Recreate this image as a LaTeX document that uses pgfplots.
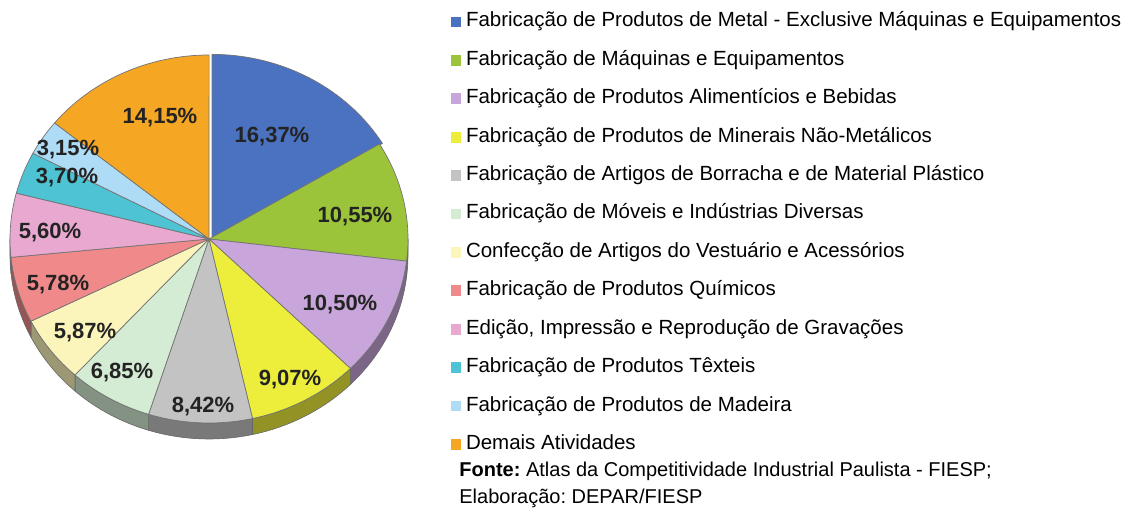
\documentclass[border=0pt]{standalone}
\usepackage{pgfplots}
\pgfplotsset{compat=1.18}
\usepackage{fontspec}
\setmainfont{Liberation Sans}
\frenchspacing
\definecolor{cA}{RGB}{74,114,192}
\definecolor{cB}{RGB}{156,196,58}
\definecolor{cC}{RGB}{200,165,218}
\definecolor{cD}{RGB}{237,237,60}
\definecolor{cE}{RGB}{195,195,195}
\definecolor{cF}{RGB}{212,235,212}
\definecolor{cG}{RGB}{251,245,187}
\definecolor{cH}{RGB}{240,138,138}
\definecolor{cI}{RGB}{232,168,207}
\definecolor{cJ}{RGB}{77,195,211}
\definecolor{cK}{RGB}{174,219,245}
\definecolor{cL}{RGB}{245,166,35}
\definecolor{labtxt}{RGB}{35,35,35}
% pie geometry (pixel units of the 1138x508 canvas, 1 px = 0.5 pt)
\def\rx{99.5pt}\def\ry{92pt}\def\depth{8pt}
% value / colour / explode shift x,y (pt)
\def\pieData{16.37/cA/1.5/0.3, 10.55/cB/0/0, 10.50/cC/0/0, 9.07/cD/0/0, 8.42/cE/0/0, 6.85/cF/0/0, 5.87/cG/0/0, 5.78/cH/0/0, 5.60/cI/0/0, 3.70/cJ/0/0, 3.15/cK/0/0, 14.15/cL/0/0}
\gdef\pieTops{}\gdef\pieSides{}\xdef\cum{0}
\foreach \v/\c/\sx/\sy in \pieData {%
  \pgfmathsetmacro\sa{90-3.6*\cum}%
  \pgfmathsetmacro\ea{90-3.6*(\cum+\v)}%
  \pgfmathsetmacro\newcum{\cum+\v}%
  \xdef\cum{\newcum}%
  \xdef\pieTops{\unexpanded\expandafter{\pieTops}%
    \noexpand\filldraw[fill=\c,draw=black!55,line width=0.35pt,shift={(\sx pt,\sy pt)}] (axis cs:209,269) -- ++(\sa:\rx\space and \ry) arc[start angle=\sa,end angle=\ea,x radius=\rx,y radius=\ry] -- cycle;}%
  \pgfmathsetmacro\lo{max(\ea,-180)}%
  \pgfmathsetmacro\hi{min(\sa,0)}%
  \ifdim\lo pt<\hi pt
    \xdef\pieSides{\unexpanded\expandafter{\pieSides}%
      \noexpand\filldraw[fill=\c!62!black,draw=black!60,line width=0.3pt] (axis cs:209,269) ++(\hi:\rx\space and \ry) arc[start angle=\hi,end angle=\lo,x radius=\rx,y radius=\ry] -- ++(0pt,-\depth) arc[start angle=\lo,end angle=\hi,x radius=\rx,y radius=\ry] -- cycle;}%
  \fi
}
\begin{document}
\begin{tikzpicture}
\useasboundingbox (0,0) rectangle (569pt,254pt);
\begin{axis}[at={(0,0)}, anchor=south west,
  width=569pt, height=254pt, scale only axis,
  xmin=0, xmax=1138, ymin=0, ymax=508,
  hide axis, clip=false,
  legend cell align=left,
  legend image code/.code={\fill[#1] (0pt,-2.7pt) rectangle (5pt,2.7pt);},
  legend style={at={(axis cs:451,496)}, anchor=north west, draw=none, fill=none,
    inner sep=0pt, outer sep=0pt, font=\fontsize{10.25}{12}\selectfont,
    row sep=9.2pt,
    nodes={inner sep=0pt, text height=7.5pt, text depth=2.5pt},
    /tikz/every odd column/.style={column sep=2.5pt}},
]
\addlegendimage{fill=cA,draw=none}\addlegendentry{Fabricação de Produtos de Metal - Exclusive Máquinas e Equipamentos}
\addlegendimage{fill=cB,draw=none}\addlegendentry{Fabricação de Máquinas e Equipamentos}
\addlegendimage{fill=cC,draw=none}\addlegendentry{Fabricação de Produtos Alimentícios e Bebidas}
\addlegendimage{fill=cD,draw=none}\addlegendentry{Fabricação de Produtos de Minerais Não-Metálicos}
\addlegendimage{fill=cE,draw=none}\addlegendentry{Fabricação de Artigos de Borracha e de Material Plástico}
\addlegendimage{fill=cF,draw=none}\addlegendentry{Fabricação de Móveis e Indústrias Diversas}
\addlegendimage{fill=cG,draw=none}\addlegendentry{Confecção de Artigos do Vestuário e Acessórios}
\addlegendimage{fill=cH,draw=none}\addlegendentry{Fabricação de Produtos Químicos}
\addlegendimage{fill=cI,draw=none}\addlegendentry{Edição, Impressão e Reprodução de Gravações}
\addlegendimage{fill=cJ,draw=none}\addlegendentry{Fabricação de Produtos Têxteis}
\addlegendimage{fill=cK,draw=none}\addlegendentry{Fabricação de Produtos de Madeira}
\addlegendimage{fill=cL,draw=none}\addlegendentry{Demais Atividades}
\pieSides
\pieTops
\begin{scope}[every node/.style={font=\fontsize{11}{13}\selectfont\bfseries, text=labtxt, inner sep=0pt}]
\node at (axis cs:272,371) {16,37\%};
\node at (axis cs:355,291) {10,55\%};
\node at (axis cs:340,203) {10,50\%};
\node at (axis cs:290,128) {9,07\%};
\node at (axis cs:203,101) {8,42\%};
\node at (axis cs:122,135) {6,85\%};
\node at (axis cs:85,175) {5,87\%};
\node at (axis cs:58,223) {5,78\%};
\node at (axis cs:50,275) {5,60\%};
\node at (axis cs:67,330) {3,70\%};
\node at (axis cs:68,358) {3,15\%};
\node at (axis cs:160,390) {14,15\%};
\end{scope}
\node[anchor=base west, font=\fontsize{10}{12}\selectfont, inner sep=0pt] at (axis cs:459,32) {\textbf{Fonte:} Atlas da Competitividade Industrial Paulista - FIESP;};
\node[anchor=base west, font=\fontsize{10}{12}\selectfont, inner sep=0pt] at (axis cs:459,5) {Elaboração: DEPAR/FIESP};
\end{axis}
\end{tikzpicture}
\end{document}
